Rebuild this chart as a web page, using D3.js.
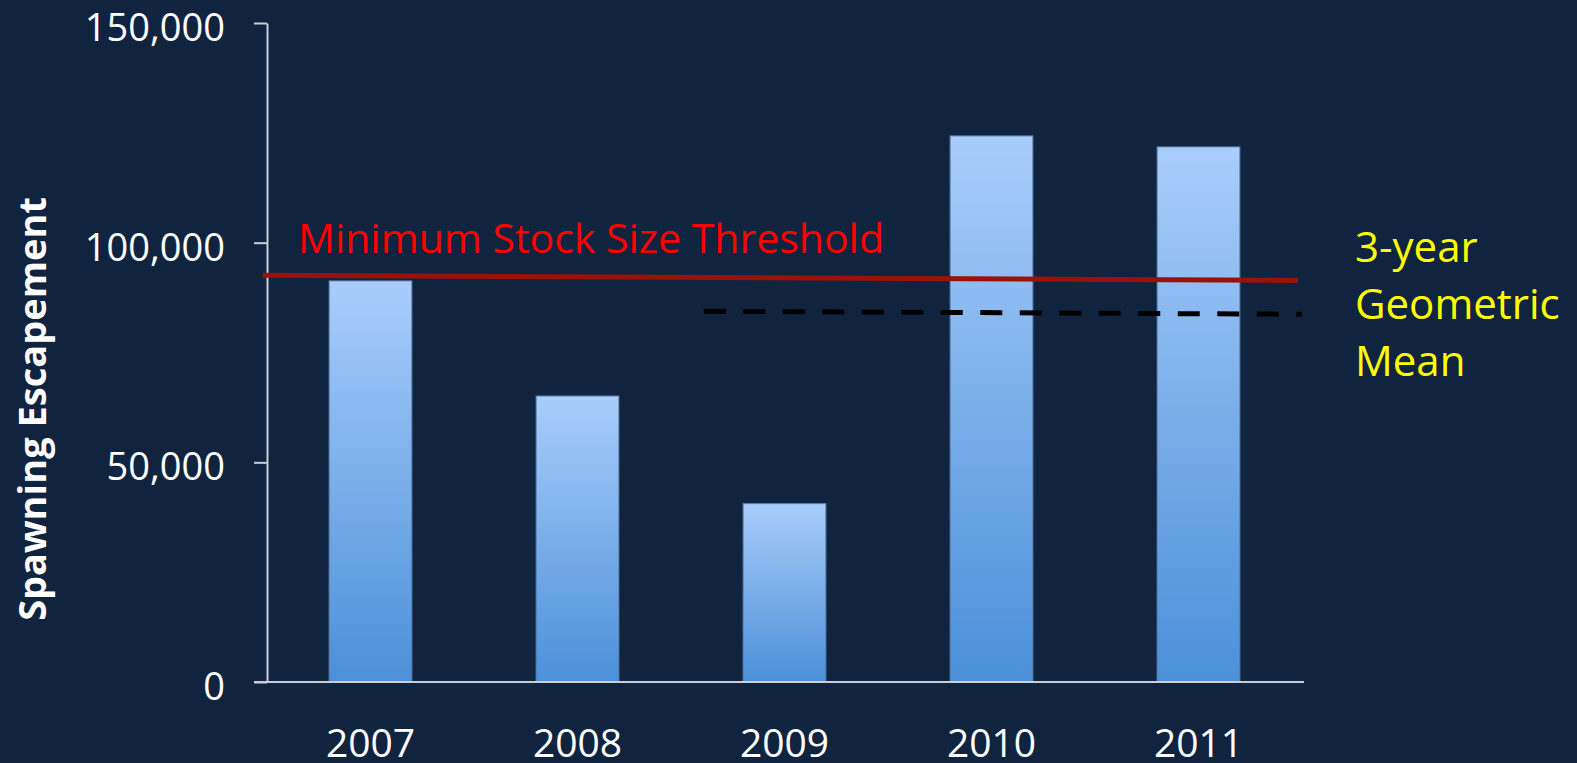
<!DOCTYPE html>
<html>
<head>
<meta charset="utf-8">
<script src="https://cdn.jsdelivr.net/npm/d3@7"></script>
<style>
  html, body { margin: 0; padding: 0; background: #11243f; overflow: hidden; }
  svg { display: block; font-family: "Open Sans", sans-serif; }
</style>
</head>
<body>
<script>
// Data
const years = ["2007", "2008", "2009", "2010", "2011"];
const escapement = [91300, 65100, 40600, 124300, 121800];
const yTicks = [0, 50000, 100000, 150000];
// threshold lines, as [year position, value] pairs
const msstLine = [[2006.48, 92600], [2011.48, 91400]];
const geoMeanLine = [[2008.61, 84400], [2011.5, 83700]];
const msstLabel = "Minimum Stock Size Threshold";
const geoMeanLabel = ["3-year", "Geometric", "Mean"];
const yTitle = "Spawning Escapement";

const width = 1577;
const height = 763;
const margin = { left: 267, right: 275, top: 23, bottom: 81 };

const svg = d3.select("body")
  .append("svg")
  .attr("width", width)
  .attr("height", height);

svg.append("rect")
  .attr("width", width)
  .attr("height", height)
  .attr("fill", "#11243f");

const x = d3.scaleBand()
  .domain(years)
  .range([margin.left, width - margin.right])
  .paddingInner(0.6)
  .paddingOuter(0.3);

const y = d3.scaleLinear()
  .domain([0, 150000])
  .range([height - margin.bottom, margin.top]);

// linear year scale for the reference lines
const xYear = d3.scaleLinear()
  .domain([2007, 2011])
  .range([x("2007") + x.bandwidth() / 2, x("2011") + x.bandwidth() / 2]);

// bar gradient
const grad = svg.append("defs")
  .append("linearGradient")
  .attr("id", "barGrad")
  .attr("x1", 0).attr("y1", 0).attr("x2", 0).attr("y2", 1);
grad.append("stop").attr("offset", "0%").attr("stop-color", "#a9cdfb");
grad.append("stop").attr("offset", "100%").attr("stop-color", "#4b90d9");

// Bars
svg.append("g")
  .selectAll("rect")
  .data(years)
  .join("rect")
  .attr("x", d => x(d))
  .attr("width", x.bandwidth())
  .attr("y", (d, i) => y(escapement[i]))
  .attr("height", (d, i) => y(0) - y(escapement[i]))
  .attr("fill", "url(#barGrad)")
  .attr("stroke", "#5b7ca6")
  .attr("stroke-width", 1);

// Y axis
const yAxis = svg.append("g")
  .attr("transform", `translate(${margin.left},0)`)
  .call(d3.axisLeft(y)
    .tickValues(yTicks)
    .tickSize(13)
    .tickPadding(29)
    .tickSizeOuter(0)
    .tickFormat(d3.format(",")));
yAxis.select(".domain").attr("stroke", "#c9ced6").attr("stroke-width", 2);
yAxis.selectAll(".tick line").attr("stroke", "#c9ced6").attr("stroke-width", 2);
yAxis.selectAll(".tick text")
  .attr("fill", "#ffffff")
  .attr("font-size", 38)
  .attr("dy", "0.46em")
  .attr("font-family", "Open Sans, sans-serif");

// X axis line
svg.append("line")
  .attr("x1", margin.left - 13)
  .attr("x2", xYear(2011.5) + 2)
  .attr("y1", y(0))
  .attr("y2", y(0))
  .attr("stroke", "#c9ced6")
  .attr("stroke-width", 2);

// X labels
svg.append("g")
  .selectAll("text")
  .data(years)
  .join("text")
  .attr("x", d => x(d) + x.bandwidth() / 2)
  .attr("y", 757)
  .attr("text-anchor", "middle")
  .attr("fill", "#ffffff")
  .attr("font-size", 39)
  .text(d => d);

// Reference lines
const line = d3.line()
  .x(d => xYear(d[0]))
  .y(d => y(d[1]));

svg.append("path")
  .datum(geoMeanLine)
  .attr("d", line)
  .attr("fill", "none")
  .attr("stroke", "#000000")
  .attr("stroke-width", 5)
  .attr("stroke-dasharray", "22 17.5");

svg.append("path")
  .datum(msstLine)
  .attr("d", line)
  .attr("fill", "none")
  .attr("stroke", "#9a1208")
  .attr("stroke-width", 5);

svg.append("text")
  .attr("x", 298)
  .attr("y", 253)
  .attr("fill", "#ff0000")
  .attr("font-size", 41)
  .text(msstLabel);

svg.append("g")
  .selectAll("text")
  .data(geoMeanLabel)
  .join("text")
  .attr("x", 1355)
  .attr("y", (d, i) => 262 + i * 57)
  .attr("fill", "#ffff00")
  .attr("font-size", 42)
  .text(d => d);

// Y title
svg.append("text")
  .attr("transform", "translate(46,409) rotate(-90)")
  .attr("text-anchor", "middle")
  .attr("fill", "#ffffff")
  .attr("font-size", 38)
  .attr("font-weight", "bold")
  .text(yTitle);
</script>
</body>
</html>
